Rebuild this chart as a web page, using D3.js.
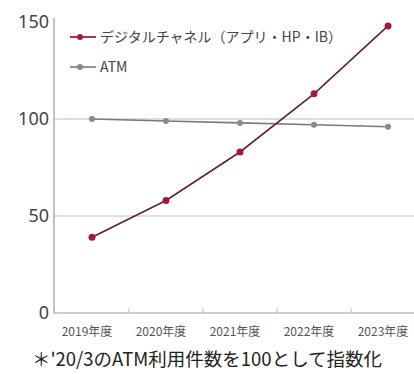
<!DOCTYPE html>
<html><head><meta charset="utf-8">
<script src="https://cdn.jsdelivr.net/npm/d3@7"></script>
<style>
html,body{margin:0;padding:0;background:#fff;}
svg{display:block;font-family:"Noto Sans CJK JP","Noto Sans",sans-serif;}
</style></head>
<body><svg id="c" width="414" height="374"></svg>
<script>
const years = ["2019年度","2020年度","2021年度","2022年度","2023年度"];
const digital = [39, 58, 83, 113, 148];
const atm = [100, 99, 98, 97, 96];
const yTicks = [0, 50, 100, 150];
const seriesNames = ["デジタルチャネル（アプリ・HP・IB）", "ATM"];
const note = "＊'20/3のATM利用件数を100として指数化";

const svg = d3.select("#c");
const axisX = 54;
const x = d3.scaleBand().domain(years).range([55, 425]);
const y = d3.scaleLinear().domain([0, 150]).range([313, 22]);

// horizontal guides at 50 and 100
svg.append("g").selectAll("line").data([50, 100]).join("line")
  .attr("x1", axisX).attr("x2", 414)
  .attr("y1", d => y(d)).attr("y2", d => y(d))
  .attr("stroke", "#d4d4d4").attr("stroke-width", 1.5);

// axes
svg.append("line").attr("x1", axisX).attr("x2", axisX).attr("y1", 18).attr("y2", y(0))
  .attr("stroke", "#9a9a9a").attr("stroke-width", 1.2);
svg.append("line").attr("x1", axisX).attr("x2", 414).attr("y1", y(0)).attr("y2", y(0))
  .attr("stroke", "#9a9a9a").attr("stroke-width", 1.2);

// tick marks between the year bands
svg.append("g").selectAll("line").data(years.slice(1)).join("line")
  .attr("x1", d => x(d)).attr("x2", d => x(d))
  .attr("y1", y(0)).attr("y2", y(0) - 5)
  .attr("stroke", "#bbb");

// y labels
svg.append("g").selectAll("text").data(yTicks).join("text")
  .attr("x", 49).attr("y", d => y(d) + 6)
  .attr("text-anchor", "end").attr("font-size", 18).attr("fill", "#444")
  .attr("font-family", "'Noto Sans',sans-serif")
  .text(d => d);

// x labels
svg.append("g").selectAll("text").data(years).join("text")
  .attr("x", d => x(d) + x.bandwidth() / 2 - 5).attr("y", 336)
  .attr("text-anchor", "middle").attr("font-size", 12).attr("fill", "#555")
  .text(d => d);

const cx = d => x(d) + x.bandwidth() / 2;
const line = d3.line().x((d, i) => cx(years[i])).y(d => y(d));

// ATM series
svg.append("path").datum(atm).attr("d", line)
  .attr("fill", "none").attr("stroke", "#7a7a7a").attr("stroke-width", 1.6);
svg.append("g").selectAll("circle").data(atm).join("circle")
  .attr("cx", (d, i) => cx(years[i])).attr("cy", d => y(d)).attr("r", 3)
  .attr("fill", "#8a8a8a");

// digital channel series
svg.append("path").datum(digital).attr("d", line)
  .attr("fill", "none").attr("stroke", "#5e2236").attr("stroke-width", 1.6);
svg.append("g").selectAll("circle").data(digital).join("circle")
  .attr("cx", (d, i) => cx(years[i])).attr("cy", d => y(d)).attr("r", 3.5)
  .attr("fill", "#a3193f");

// legend
const legend = [
  {name: seriesNames[0], color: "#a3193f", stroke: "#a3193f", y: 37},
  {name: seriesNames[1], color: "#8a8a8a", stroke: "#8a8a8a", y: 67}
];
const lg = svg.append("g").selectAll("g").data(legend).join("g");
lg.append("line").attr("x1", 70).attr("x2", 96).attr("y1", d => d.y).attr("y2", d => d.y)
  .attr("stroke", d => d.stroke).attr("stroke-width", 1.8);
lg.append("circle").attr("cx", 80).attr("cy", d => d.y).attr("r", 3).attr("fill", d => d.color);
lg.append("text").attr("x", 100).attr("y", d => d.y + 5).attr("font-size", 14)
  .attr("fill", "#444").text(d => d.name);

// footnote
svg.append("text").attr("x", 207).attr("y", 366).attr("text-anchor", "middle")
  .attr("font-size", 18.5).attr("fill", "#222").text(note);
</script></body></html>
